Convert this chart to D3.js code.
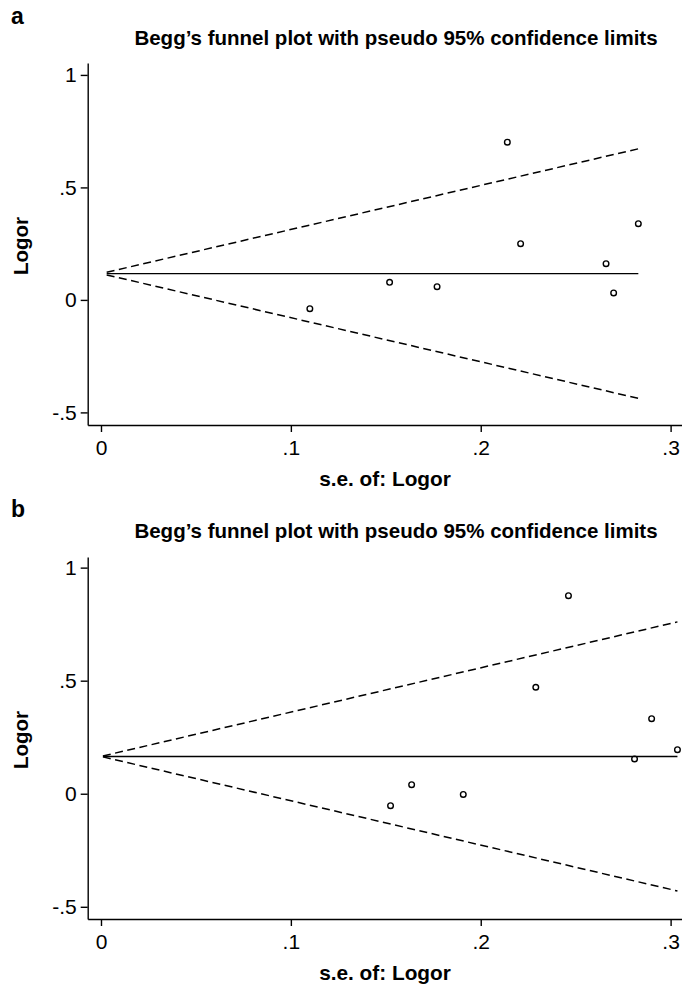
<!DOCTYPE html>
<html>
<head>
<meta charset="utf-8">
<script src="https://cdn.jsdelivr.net/npm/d3@7"></script>
<style>
	body { margin: 0; background: #fff; }
	svg { display: block; font-family: "Liberation Sans", Arial, sans-serif; }
	.axis path, .axis line { stroke: #000; stroke-width: 1.4; }
	.axis text { font-size: 21px; fill: #000; }
</style>
</head>
<body>
<div id="chart"></div>
<script>
// panel a data
var seA = [0.110, 0.152, 0.177, 0.214, 0.221, 0.266, 0.270, 0.283];
var logorA = [-0.039, 0.078, 0.059, 0.701, 0.250, 0.161, 0.031, 0.339];
var pooledA = 0.117;
var lineStartA = 0.003;

// panel b data
var seB = [0.1525, 0.1636, 0.1908, 0.229, 0.2462, 0.281, 0.290, 0.3036];
var logorB = [-0.053, 0.040, -0.003, 0.471, 0.876, 0.154, 0.332, 0.195];
var pooledB = 0.165;
var lineStartB = 0.001;

var yTicks = [-0.5, 0, 0.5, 1];
var xTicks = [0, 0.1, 0.2, 0.3];
var z95 = 1.96;

var titleText = "Begg\u2019s funnel plot with pseudo 95% confidence limits";
var xTitle = "s.e. of: Logor";
var yTitle = "Logor";

var svg = d3.select("#chart").append("svg")
	.attr("width", 682)
	.attr("height", 986);

// stata style labels: .5, -.5
function stataFmt(d){
	if (d === 0) return "0";
	return String(d).replace("0.", ".");
}

function drawPanel(letter, top, se, logor, pooled, lineStart, yDomain){
	var g = svg.append("g").attr("transform", "translate(0," + top + ")");

	var x = d3.scaleLinear().domain([-0.007, 0.306]).range([87.7, 682]);
	var y = d3.scaleLinear().domain([yDomain[0], yDomain[1]]).range([yDomain[2], yDomain[3]]);

	g.append("text")
		.text(letter)
		.attr("x", 11)
		.attr("y", 24)
		.style("font-size", "23px")
		.style("font-weight", "bold");

	g.append("text")
		.text(titleText)
		.attr("x", 396)
		.attr("y", 45)
		.attr("text-anchor", "middle")
		.style("font-size", "20.5px")
		.style("font-weight", "bold");

	g.append("g")
		.attr("class", "axis")
		.attr("transform", "translate(87.7,0)")
		.call(d3.axisLeft(y).tickValues(yTicks).tickFormat(stataFmt).tickSize(7).tickSizeOuter(0).tickPadding(4));

	g.append("g")
		.attr("class", "axis")
		.attr("transform", "translate(0," + yDomain[2] + ")")
		.call(d3.axisBottom(x).tickValues(xTicks).tickFormat(stataFmt).tickSize(7).tickSizeOuter(0).tickPadding(8));

	g.append("text")
		.text(yTitle)
		.attr("transform", "translate(28," + ((yDomain[2] + yDomain[3]) / 2 + 2) + ") rotate(-90)")
		.attr("text-anchor", "middle")
		.style("font-size", "20.5px")
		.style("font-weight", "bold");

	g.append("text")
		.text(xTitle)
		.attr("x", 385)
		.attr("y", yDomain[2] + 61)
		.attr("text-anchor", "middle")
		.style("font-size", "20.8px")
		.style("font-weight", "bold");

	var seMax = d3.max(se);
	var line = d3.line().x(function(d){ return x(d[0]); }).y(function(d){ return y(d[1]); });

	g.append("path")
		.attr("d", line([[lineStart, pooled], [seMax, pooled]]))
		.attr("fill", "none")
		.attr("stroke", "#000")
		.attr("stroke-width", 1.4);

	[1, -1].forEach(function(sign){
		g.append("path")
			.attr("d", line([[lineStart, pooled + sign * z95 * lineStart], [seMax, pooled + sign * z95 * seMax]]))
			.attr("fill", "none")
			.attr("stroke", "#000")
			.attr("stroke-width", 1.5)
			.attr("stroke-dasharray", "8,4.5");
	});

	g.selectAll(".pt")
		.data(se).enter()
		.append("circle")
			.attr("class", "pt")
			.attr("cx", function(d){ return x(d); })
			.attr("cy", function(d, i){ return y(logor[i]); })
			.attr("r", 2.8)
			.attr("fill", "none")
			.attr("stroke", "#000")
			.attr("stroke-width", 1.4);
}

// domain low, domain high, pixel bottom, pixel top (relative to panel)
drawPanel("a", 0, seA, logorA, pooledA, lineStartA, [-0.556, 1.053, 425, 63]);
drawPanel("b", 493, seB, logorB, pooledB, lineStartB, [-0.554, 1.047, 426, 64]);
</script>
</body>
</html>
